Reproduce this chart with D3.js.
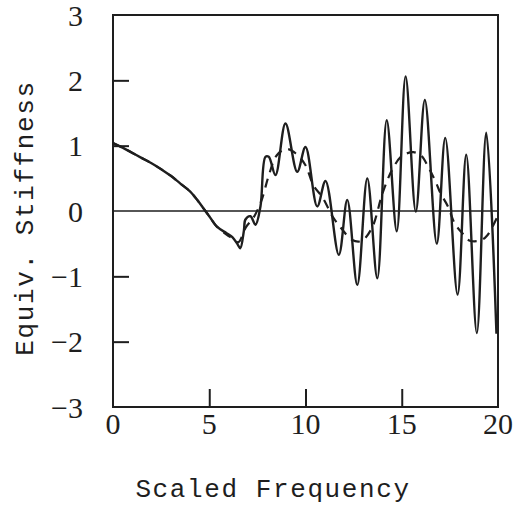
<!DOCTYPE html>
<html>
<head>
<meta charset="utf-8">
<script src="https://cdn.jsdelivr.net/npm/d3@7"></script>
<style>
  html, body { margin: 0; padding: 0; background: #fff; }
  svg { display: block; }
</style>
</head>
<body>
<svg id="chart" width="517" height="506"></svg>
<script>
// ---- data ----
const solidFreq = [0, 0.5, 1.0, 1.5, 2.0, 2.5, 3.0, 3.5, 4.0, 4.4, 4.7, 5.0, 5.4, 5.9, 6.2, 6.45, 6.61, 6.8, 6.88, 7.14, 7.4, 7.66, 7.92, 8.09, 8.44, 8.96, 9.57, 10.0, 10.61, 11.04, 11.73, 12.17, 12.69, 13.21, 13.73, 14.22, 14.74, 15.2, 15.73, 16.2, 16.82, 17.26, 17.9, 18.35, 18.9, 19.39, 19.92];
const solidStiff = [1.04, 0.97, 0.89, 0.81, 0.73, 0.64, 0.54, 0.42, 0.30, 0.16, 0.04, -0.08, -0.24, -0.34, -0.40, -0.50, -0.57, -0.30, -0.13, -0.08, -0.21, 0.07, 0.83, 0.83, 0.55, 1.34, 0.60, 0.98, 0.07, 0.46, -0.67, 0.17, -1.13, 0.50, -1.03, 1.39, -0.31, 2.06, -0.01, 1.70, -0.50, 1.12, -1.28, 0.86, -1.87, 1.20, -1.88];

const dashFreq = [0, 0.5, 1.0, 1.5, 2.0, 2.5, 3.0, 3.5, 4.0, 4.4, 4.7, 5.0, 5.4, 5.9, 6.2, 6.5, 6.9, 7.3, 7.7, 8.1, 8.5, 9.0, 9.5, 10.0, 10.4, 10.9, 11.4, 11.9, 12.4, 12.9, 13.45, 14.0, 14.5, 15.0, 15.6, 16.0, 16.4, 16.8, 17.0, 17.4, 17.75, 18.15, 18.5, 19.1, 19.45, 19.95];
const dashStiff = [1.04, 0.97, 0.89, 0.81, 0.73, 0.64, 0.54, 0.42, 0.30, 0.16, 0.04, -0.08, -0.24, -0.36, -0.42, -0.48, -0.25, -0.10, 0.15, 0.55, 0.85, 0.95, 0.88, 0.70, 0.40, 0.20, -0.08, -0.28, -0.44, -0.46, -0.26, 0.27, 0.63, 0.84, 0.90, 0.85, 0.66, 0.42, 0.28, 0.07, -0.19, -0.34, -0.45, -0.45, -0.37, -0.10];

const xTicks = [0, 5, 10, 15, 20];
const yTicks = [3, 2, 1, 0, -1, -2, -3];
const xTitle = "Scaled Frequency";
const yTitle = "Equiv. Stiffness";

// ---- layout ----
const svg = d3.select("#chart");
const padL = 113, padR = 498, padT = 15, padB = 407;
const ink = "#1e1e1e";

const x = d3.scaleLinear().domain([0, 20]).range([padL, padR]);
const y = d3.scaleLinear().domain([-3, 3]).range([padB, padT]);

// frame
svg.append("rect")
  .attr("x", padL).attr("y", padT)
  .attr("width", padR - padL).attr("height", padB - padT)
  .attr("fill", "none").attr("stroke", ink).attr("stroke-width", 2);

// zero line
svg.append("line")
  .attr("x1", x(0)).attr("x2", x(20))
  .attr("y1", y(0)).attr("y2", y(0))
  .attr("stroke", ink).attr("stroke-width", 1.6);

// inward ticks
const yAxis = d3.axisLeft(y).tickValues(yTicks.filter(v => Math.abs(v) !== 3 && v !== 0))
  .tickSize(-16).tickFormat("");
const gy = svg.append("g").attr("transform", `translate(${padL},0)`).call(yAxis);
gy.select(".domain").remove();
gy.selectAll(".tick line").attr("stroke", ink).attr("stroke-width", 2);

const xAxis = d3.axisBottom(x).tickValues(xTicks.filter(v => v !== 0 && v !== 20))
  .tickSize(-18).tickFormat("");
const gx = svg.append("g").attr("transform", `translate(0,${padB})`).call(xAxis);
gx.select(".domain").remove();
gx.selectAll(".tick line").attr("stroke", ink).attr("stroke-width", 2);

// tick labels
const fmt = v => (v < 0 ? "\u2212" + Math.abs(v) : String(v));
svg.append("g").selectAll("text").data(yTicks).join("text")
  .attr("x", 83).attr("y", d => y(d))
  .attr("dy", "0.35em")
  .attr("text-anchor", "end")
  .attr("font-family", "'Liberation Serif', 'DejaVu Serif', serif")
  .attr("font-size", 30).attr("fill", ink)
  .text(fmt);

svg.append("g").selectAll("text").data(xTicks).join("text")
  .attr("x", d => x(d)).attr("y", 434)
  .attr("text-anchor", "middle")
  .attr("font-family", "'Liberation Serif', 'DejaVu Serif', serif")
  .attr("font-size", 30).attr("fill", ink)
  .text(fmt);

// axis titles
svg.append("text")
  .attr("x", 273).attr("y", 497)
  .attr("text-anchor", "middle")
  .attr("font-family", "'Liberation Mono', 'DejaVu Sans Mono', monospace")
  .attr("font-size", 26).attr("letter-spacing", 1.6).attr("fill", ink)
  .text(xTitle);

svg.append("text")
  .attr("transform", "translate(33,218) rotate(-90)")
  .attr("text-anchor", "middle")
  .attr("font-family", "'Liberation Mono', 'DejaVu Sans Mono', monospace")
  .attr("font-size", 26).attr("letter-spacing", 1.6).attr("fill", ink)
  .text(yTitle);

// curves
const solid = solidFreq.map((f, i) => [f, solidStiff[i]]);
const dashed = dashFreq.map((f, i) => [f, dashStiff[i]]);
const line = d3.line().x(d => x(d[0])).y(d => y(d[1])).curve(d3.curveCatmullRom.alpha(0.5));

svg.append("path").datum(dashed)
  .attr("d", line).attr("fill", "none")
  .attr("stroke", ink).attr("stroke-width", 2.2)
  .attr("stroke-dasharray", "9,7");

svg.append("path").datum(solid)
  .attr("d", line).attr("fill", "none")
  .attr("stroke", ink).attr("stroke-width", 2.4)
  .attr("stroke-linejoin", "round");
</script>
</body>
</html>
